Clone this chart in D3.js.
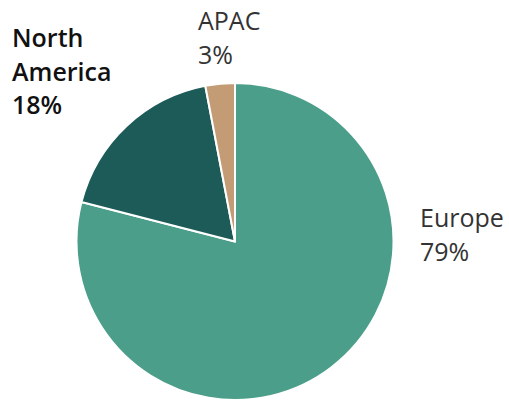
<!DOCTYPE html>
<html>
<head>
<meta charset="utf-8">
<script src="https://cdn.jsdelivr.net/npm/d3@7"></script>
<style>
  html, body { margin: 0; padding: 0; background: #fff; }
  svg { display: block; }
</style>
</head>
<body>
<svg id="chart" width="509" height="403"></svg>
<script>
// Regional share of revenue
const regions = ["Europe", "North America", "APAC"];
const shares = [79, 18, 3];
const colors = ["#4b9e89", "#1d5b59", "#c39b75"];

const width = 509, height = 403;
const cx = 235, cy = 241.5, radius = 158.5;

const svg = d3.select("#chart");
const g = svg.append("g").attr("transform", `translate(${cx},${cy})`);

const pie = d3.pie().sort(null).value(d => d.value)
  .startAngle(0).endAngle(2 * Math.PI);
const arc = d3.arc().innerRadius(0).outerRadius(radius);

const data = regions.map((r, i) => ({ region: r, value: shares[i], color: colors[i] }));
const arcs = pie(data);

g.selectAll("path.slice")
  .data(arcs)
  .join("path")
  .attr("class", "slice")
  .attr("d", arc)
  .attr("fill", d => d.data.color)
  .attr("stroke", "#ffffff")
  .attr("stroke-width", 2)
  .attr("stroke-linejoin", "round");

// Label blocks: name lines followed by the percentage
const labelLayout = {
  "Europe":        { x: 420, y: 227, lines: ["Europe"], weight: 400, fill: "#333333" },
  "North America": { x: 12,  y: 47,  lines: ["North", "America"], weight: 600, fill: "#111111" },
  "APAC":          { x: 198, y: 30,  lines: ["APAC"], weight: 400, fill: "#333333" }
};
const lineH = 33.5;

data.forEach(d => {
  const L = labelLayout[d.region];
  const t = svg.append("text")
    .attr("x", L.x)
    .attr("y", L.y)
    .attr("font-family", "'Open Sans', 'DejaVu Sans', sans-serif")
    .attr("font-size", 25)
    .attr("font-weight", L.weight)
    .attr("fill", L.fill);
  const lines = L.lines.concat([d3.format("d")(d.value) + "%"]);
  lines.forEach((s, i) => {
    t.append("tspan").attr("x", L.x).attr("dy", i === 0 ? 0 : lineH).text(s);
  });
});
</script>
</body>
</html>
